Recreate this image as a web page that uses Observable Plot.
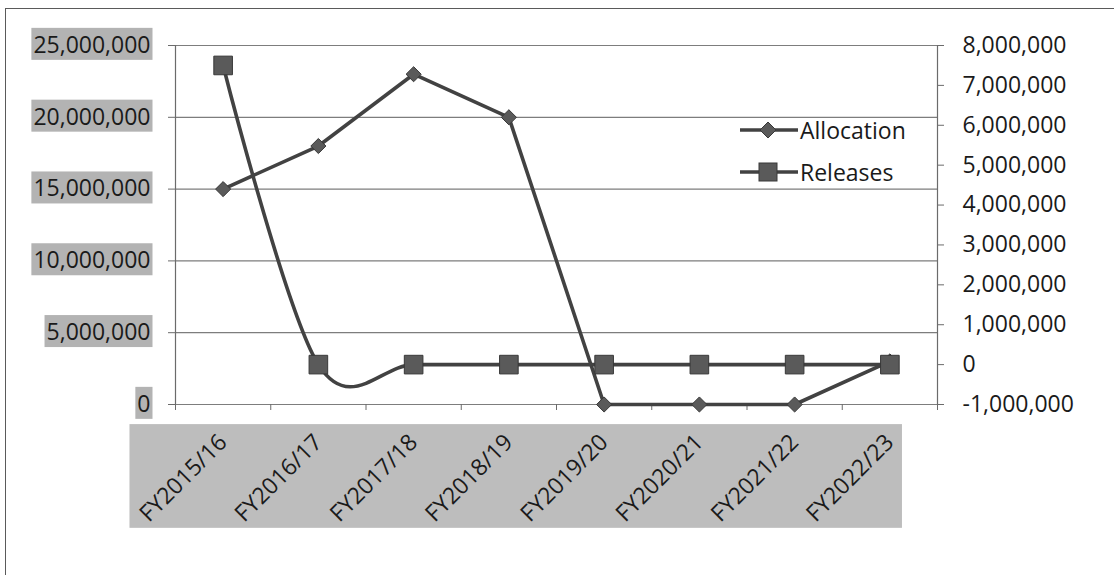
<!DOCTYPE html>
<html><head><meta charset="utf-8">
<script src="https://cdn.jsdelivr.net/npm/d3@7"></script>
<script src="https://cdn.jsdelivr.net/npm/@observablehq/plot@0.6"></script>
<style>
body{margin:0;background:#fff;}
#wrap{position:relative;width:1119px;height:575px;overflow:hidden;font-family:"Open Sans",sans-serif;color:#1a1a1a;}
#frame{position:absolute;left:5px;top:8px;width:1108px;height:620px;border-top:1.5px solid #5a5a5a;border-left:1.5px solid #5a5a5a;}
#chart{position:absolute;left:0;top:0;}
#legend{position:absolute;left:738px;top:109px;font-size:23px;}
.row{display:flex;align-items:center;height:42px;}
.row span{margin-left:2px;}
</style></head><body>
<div id="wrap"><div id="frame"></div><div id="chart"></div><div id="legend"></div></div>
<script>
const categories = ["FY2015/16","FY2016/17","FY2017/18","FY2018/19","FY2019/20","FY2020/21","FY2021/22","FY2022/23"];
const allocation = [15000000,18000000,23000000,20000000,0,0,0,3000000];
const releases = [7500000,0,0,0,0,0,0,0];
const leftTicks = [0,5000000,10000000,15000000,20000000,25000000];
const rightTicks = [-1000000,0,1000000,2000000,3000000,4000000,5000000,6000000,7000000,8000000];
const seriesNames = ["Allocation","Releases"];

const LEFT_MAX = 25000000, R_MIN = -1000000, R_MAX = 8000000;
const toLeft = v => (v - R_MIN) / (R_MAX - R_MIN) * LEFT_MAX;
const fromLeft = v => Math.round((v / LEFT_MAX * (R_MAX - R_MIN) + R_MIN) / 1000) * 1000;
const fmt = d3.formatLocale({decimal: ".", thousands: ",", grouping: [3], currency: ["", ""], minus: "-"}).format(",");
const rows = categories.map((c, i) => ({i: i + 0.5, c, a: allocation[i], r: toLeft(releases[i])}));

const LINE = "#424242", FILL = "#5a5a5a", EDGE = "#383838", AX = "#6b6b6b";

const plot = Plot.plot({
  width: 1119, height: 575,
  marginLeft: 175, marginRight: 182, marginTop: 45, marginBottom: 171,
  x: {domain: [0, categories.length], axis: null, label: null},
  y: {domain: [0, LEFT_MAX], axis: null, label: null},
  style: {fontFamily: "Open Sans", fontSize: "23px", color: "#1a1a1a", background: "transparent", overflow: "visible"},
  marks: [
    Plot.gridY(leftTicks, {stroke: "#7d7d7d", strokeOpacity: 1, strokeWidth: 1.2}),
    Plot.ruleX([0, categories.length], {stroke: AX, strokeWidth: 1.2}),
    Plot.axisY(leftTicks, {anchor: "left", label: null, tickSize: 7, tickPadding: 18, tickFormat: fmt, stroke: AX}),
    Plot.axisY(rightTicks.map(toLeft), {anchor: "right", label: null, tickSize: 6, tickPadding: 19, tickFormat: d => fmt(fromLeft(d)), stroke: AX}),
    Plot.axisX(d3.range(categories.length + 1), {label: null, tickSize: 6, tickFormat: () => "", stroke: AX}),
    Plot.axisX(rows.map(d => d.i), {label: null, tickSize: 0, tickRotate: -45, tickPadding: 34, tickFormat: d => categories[Math.floor(d)]}),
    Plot.line(rows, {x: "i", y: "a", stroke: LINE, strokeWidth: 3.6}),
    Plot.dot(rows, {x: "i", y: "a", symbol: "diamond2", r: 6.8, fill: FILL, stroke: EDGE, strokeWidth: 1}),
    Plot.line(rows, {x: "i", y: "r", curve: "cardinal", tension: 0, stroke: LINE, strokeWidth: 3.6}),
    Plot.dot(rows, {x: "i", y: "r", symbol: "square", r: 10.5, fill: FILL, stroke: EDGE, strokeWidth: 1})
  ]
});
document.getElementById("chart").appendChild(plot);

// gray highlight backgrounds behind tick labels (as in the scanned original)
const NS = "http://www.w3.org/2000/svg";
const yLabelGroups = plot.querySelectorAll('g[aria-label="y-axis tick label"]');
if (yLabelGroups.length) {
  yLabelGroups[0].querySelectorAll("text").forEach(t => {
    const b = t.getBBox();
    const r = document.createElementNS(NS, "rect");
    r.setAttribute("x", b.x - 2); r.setAttribute("y", b.y);
    r.setAttribute("width", b.width + 4); r.setAttribute("height", b.height);
    r.setAttribute("fill", "#b3b3b3");
    const tr = t.getAttribute("transform"); if (tr) r.setAttribute("transform", tr);
    t.parentNode.insertBefore(r, t);
  });
}
const xLabelGroups = plot.querySelectorAll('g[aria-label="x-axis tick label"]');
if (xLabelGroups.length) {
  const g = xLabelGroups[xLabelGroups.length - 1];
  let x0 = Infinity, y0 = Infinity, x1 = -Infinity, y1 = -Infinity;
  g.querySelectorAll("text").forEach(t => {
    const b = t.getBBox(), m = t.getCTM();
    const hy = b.height * 0.18; // trim line-gap above/below glyphs
    [[b.x, b.y + hy], [b.x + b.width, b.y + hy], [b.x, b.y + b.height - hy], [b.x + b.width, b.y + b.height - hy]].forEach(([px, py]) => {
      const p = new DOMPoint(px, py).matrixTransform(m);
      x0 = Math.min(x0, p.x); x1 = Math.max(x1, p.x); y0 = Math.min(y0, p.y); y1 = Math.max(y1, p.y);
    });
  });
  const r = document.createElementNS(NS, "rect");
  r.setAttribute("x", x0 - 6); r.setAttribute("y", y0 - 6);
  r.setAttribute("width", x1 - x0 + 12); r.setAttribute("height", y1 - y0 + 10);
  r.setAttribute("fill", "#bdbdbd");
  g.parentNode.insertBefore(r, g);
}

// legend
const legend = document.getElementById("legend");
seriesNames.forEach((name, k) => {
  const row = document.createElement("div"); row.className = "row";
  const sym = k === 0
    ? `<polygon points="30,4 38,12 30,20 22,12" fill="${FILL}" stroke="${EDGE}"/>`
    : `<rect x="21" y="3" width="18" height="18" fill="${FILL}" stroke="${EDGE}"/>`;
  row.innerHTML = `<svg width="60" height="24"><line x1="2" y1="12" x2="60" y2="12" stroke="${LINE}" stroke-width="3.5"/>${sym}</svg><span>${name}</span>`;
  legend.appendChild(row);
});
</script>
</body></html>
